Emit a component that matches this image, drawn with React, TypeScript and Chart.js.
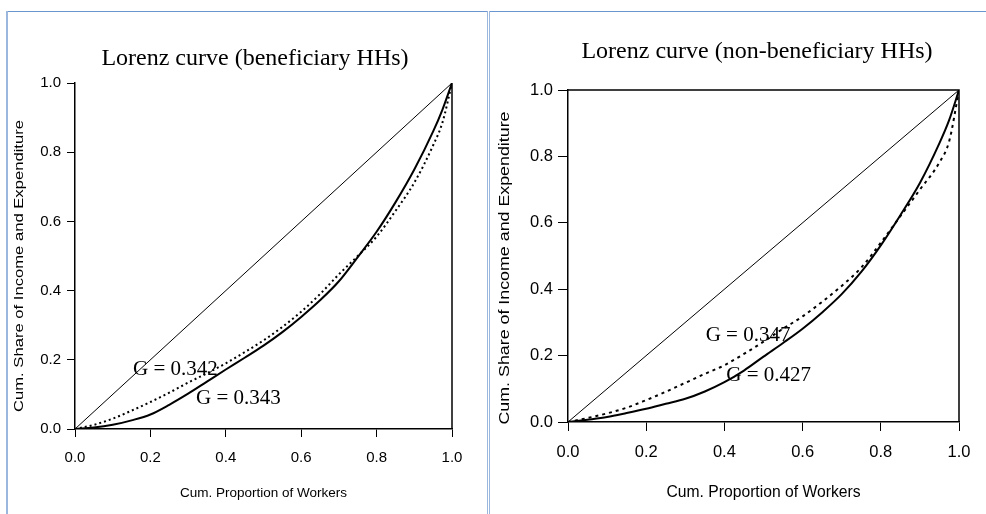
import React, { useEffect, useRef } from "react";
import { Chart, registerables } from "chart.js";

Chart.register(...registerables);

// Cumulative proportion of workers (x)
const proportion = [0, 0.05, 0.1, 0.15, 0.2, 0.25, 0.3, 0.35, 0.4, 0.45, 0.5, 0.55, 0.6, 0.65, 0.7, 0.75, 0.8, 0.85, 0.9, 0.95, 0.975, 1];

// Beneficiary HHs
const benSolid = [0, 0.004, 0.012, 0.025, 0.042, 0.07, 0.102, 0.137, 0.172, 0.206, 0.241, 0.28, 0.324, 0.372, 0.427, 0.497, 0.57, 0.655, 0.75, 0.86, 0.924, 1]; // G = 0.343
const benDotted = [0, 0.012, 0.03, 0.053, 0.078, 0.105, 0.134, 0.161, 0.19, 0.222, 0.256, 0.295, 0.339, 0.39, 0.447, 0.5, 0.556, 0.63, 0.712, 0.82, 0.887, 1]; // G = 0.342

// Non-beneficiary HHs
const nonSolid = [0, 0.007, 0.015, 0.027, 0.04, 0.055, 0.07, 0.092, 0.12, 0.155, 0.197, 0.238, 0.281, 0.33, 0.385, 0.452, 0.532, 0.623, 0.72, 0.84, 0.91, 1]; // G = 0.427
const nonDotted = [0, 0.012, 0.026, 0.043, 0.066, 0.091, 0.118, 0.145, 0.171, 0.205, 0.242, 0.281, 0.318, 0.362, 0.41, 0.465, 0.54, 0.62, 0.7, 0.782, 0.846, 1]; // G = 0.347

// Line of equality
const equalityX = [0, 1];
const equalityY = [0, 1];

// Axis ticks
const axisTicks = [0, 0.2, 0.4, 0.6, 0.8, 1.0];
const tickLabels = ["0.0", "0.2", "0.4", "0.6", "0.8", "1.0"];

const SANS = '"Liberation Sans", Arial, sans-serif';
const SERIF = '"Liberation Serif", "Times New Roman", serif';

type Panel = {
  canvas: { left: number; top: number; width: number; height: number };
  title: string;
  titleX: number;
  titleY: number;
  solid: number[];
  dotted: number[];
  dash: number[];
  labels: { text: string; x: number; y: number }[];
  padding: { top: number; right: number; left: number; bottom: number };
  yWidth: number;
  xHeight: number;
  tickFont: number;
  tickLenX: number;
  tickLenY: number;
  padX: number;
  padY: number;
  xTitleFont: number;
  xTitlePad: number;
  yTitle: { x: number; y: number; length: number; size: number };
  box: boolean;
};

const panels: Panel[] = [
  {
    canvas: { left: 8, top: 12, width: 479, height: 502 },
    title: "Lorenz curve (beneficiary HHs)",
    titleX: 247,
    titleY: 46.5,
    solid: benSolid,
    dotted: benDotted,
    dash: [2, 3],
    labels: [
      { text: "G = 0.342", x: 0.154, y: 0.171 },
      { text: "G = 0.343", x: 0.321, y: 0.088 },
    ],
    padding: { top: 71, right: 35, left: 0, bottom: 0 },
    yWidth: 67,
    xHeight: 85,
    tickFont: 15,
    tickLenX: 8,
    tickLenY: 8,
    padX: 12,
    padY: 6,
    xTitleFont: 13.5,
    xTitlePad: 13,
    yTitle: { x: 11, y: 254, length: 292, size: 13 },
    box: false,
  },
  {
    canvas: { left: 490, top: 12, width: 496, height: 502 },
    title: "Lorenz curve (non-beneficiary HHs)",
    titleX: 267,
    titleY: 40,
    solid: nonSolid,
    dotted: nonDotted,
    dash: [3, 4],
    labels: [
      { text: "G = 0.347", x: 0.352, y: 0.261 },
      { text: "G = 0.427", x: 0.405, y: 0.139 },
    ],
    padding: { top: 78, right: 27, left: 0, bottom: 0 },
    yWidth: 78,
    xHeight: 92,
    tickFont: 16.5,
    tickLenX: 9,
    tickLenY: 10,
    padX: 12,
    padY: 5,
    xTitleFont: 15.7,
    xTitlePad: 12,
    yTitle: { x: 15, y: 256, length: 313, size: 14 },
    box: true,
  },
];

function makeDecor(p: Panel) {
  return {
    id: "decor",
    afterDraw(chart: any) {
      const ctx: CanvasRenderingContext2D = chart.ctx;
      const { left, right, top, bottom } = chart.chartArea;
      ctx.save();
      // frame
      ctx.strokeStyle = "#000";
      ctx.lineWidth = 1.5;
      ctx.beginPath();
      if (p.box) {
        ctx.moveTo(left, top);
        ctx.lineTo(right, top);
        ctx.lineTo(right, bottom);
      } else {
        ctx.moveTo(right, top);
        ctx.lineTo(right, bottom);
      }
      ctx.stroke();

      // title
      ctx.fillStyle = "#000";
      ctx.font = `24px ${SERIF}`;
      ctx.textAlign = "center";
      ctx.textBaseline = "middle";
      ctx.fillText(p.title, p.titleX, p.titleY);

      // y title (stretched along reading direction)
      const yt = p.yTitle;
      ctx.font = `${yt.size}px ${SANS}`;
      const text = "Cum. Share of Income and Expenditure";
      const w = ctx.measureText(text).width;
      ctx.translate(yt.x, yt.y);
      ctx.rotate(-Math.PI / 2);
      ctx.scale(yt.length / w, 1);
      ctx.fillText(text, 0, 0);
      ctx.setTransform(1, 0, 0, 1, 0, 0);

      // Gini labels
      ctx.font = `21px ${SERIF}`;
      ctx.textAlign = "left";
      ctx.textBaseline = "middle";
      for (const l of p.labels) {
        const px = chart.scales.x.getPixelForValue(l.x);
        const py = chart.scales.y.getPixelForValue(l.y);
        ctx.fillText(l.text, px, py);
      }
      ctx.restore();
    },
  };
}

function buildConfig(p: Panel): any {
  const pts = (ys: number[]) => proportion.map((x, i) => ({ x, y: ys[i] }));
  const setTicks = (s: any) => {
    s.ticks = axisTicks.map((value) => ({ value }));
  };
  return {
    type: "line",
    data: {
      datasets: [
        {
          data: equalityX.map((x, i) => ({ x, y: equalityY[i] })),
          borderColor: "#000",
          borderWidth: 1,
          pointRadius: 0,
        },
        {
          data: pts(p.dotted),
          borderColor: "#000",
          borderWidth: 2,
          borderDash: p.dash,
          borderCapStyle: "butt",
          pointRadius: 0,
          cubicInterpolationMode: "monotone",
        },
        {
          data: pts(p.solid),
          borderColor: "#000",
          borderWidth: 2,
          pointRadius: 0,
          cubicInterpolationMode: "monotone",
        },
      ],
    },
    options: {
      responsive: false,
      animation: false,
      devicePixelRatio: 1,
      layout: { padding: p.padding },
      plugins: {
        legend: { display: false },
        tooltip: { enabled: false },
        title: { display: false },
      },
      scales: {
        x: {
          type: "linear",
          min: 0,
          max: 1,
          afterBuildTicks: setTicks,
          afterFit: (s: any) => {
            s.height = p.xHeight;
          },
          grid: { drawOnChartArea: false, drawTicks: true, tickLength: p.tickLenX, color: "#000" },
          border: { display: true, color: "#000", width: 1.5 },
          ticks: {
            font: { family: SANS, size: p.tickFont },
            color: "#000",
            padding: p.padX,
            maxRotation: 0,
            autoSkip: false,
            callback: (_v: any, i: number) => tickLabels[i],
          },
          title: {
            display: true,
            text: "Cum. Proportion of Workers",
            font: { family: SANS, size: p.xTitleFont },
            color: "#000",
            padding: { top: 0, bottom: p.xTitlePad },
          },
        },
        y: {
          type: "linear",
          min: 0,
          max: 1,
          afterBuildTicks: setTicks,
          afterFit: (s: any) => {
            s.width = p.yWidth;
          },
          grid: { drawOnChartArea: false, drawTicks: true, tickLength: p.tickLenY, color: "#000" },
          border: { display: true, color: "#000", width: 1.5 },
          ticks: {
            font: { family: SANS, size: p.tickFont },
            color: "#000",
            padding: p.padY,
            autoSkip: false,
            callback: (_v: any, i: number) => tickLabels[i],
          },
          title: { display: false },
        },
      },
    },
    plugins: [makeDecor(p)],
  };
}

export default function App() {
  const ref0 = useRef<HTMLCanvasElement>(null);
  const ref1 = useRef<HTMLCanvasElement>(null);
  const refs = [ref0, ref1];

  useEffect(() => {
    const charts = panels.map((p, i) => new Chart(refs[i].current as HTMLCanvasElement, buildConfig(p)));
    return () => charts.forEach((c) => c.destroy());
  }, []);

  const line = (style: React.CSSProperties) => <div style={{ position: "absolute", ...style }} />;

  return (
    <div style={{ position: "absolute", left: 0, top: 0, width: 986, height: 514, background: "#fff", overflow: "hidden" }}>
      {line({ left: 7, top: 11, width: 481, height: 1, background: "#6a95d0" })}
      {line({ left: 489, top: 11, width: 497, height: 1, background: "#6a95d0" })}
      {line({ left: 6, top: 11, width: 2, height: 503, background: "#9bb7de" })}
      {line({ left: 487, top: 11, width: 1, height: 503, background: "#9bb7de" })}
      {line({ left: 489, top: 11, width: 1, height: 503, background: "#9bb7de" })}
      {panels.map((p, i) => (
        <canvas
          key={i}
          ref={refs[i]}
          width={p.canvas.width}
          height={p.canvas.height}
          style={{ position: "absolute", left: p.canvas.left, top: p.canvas.top, width: p.canvas.width, height: p.canvas.height }}
        />
      ))}
    </div>
  );
}
